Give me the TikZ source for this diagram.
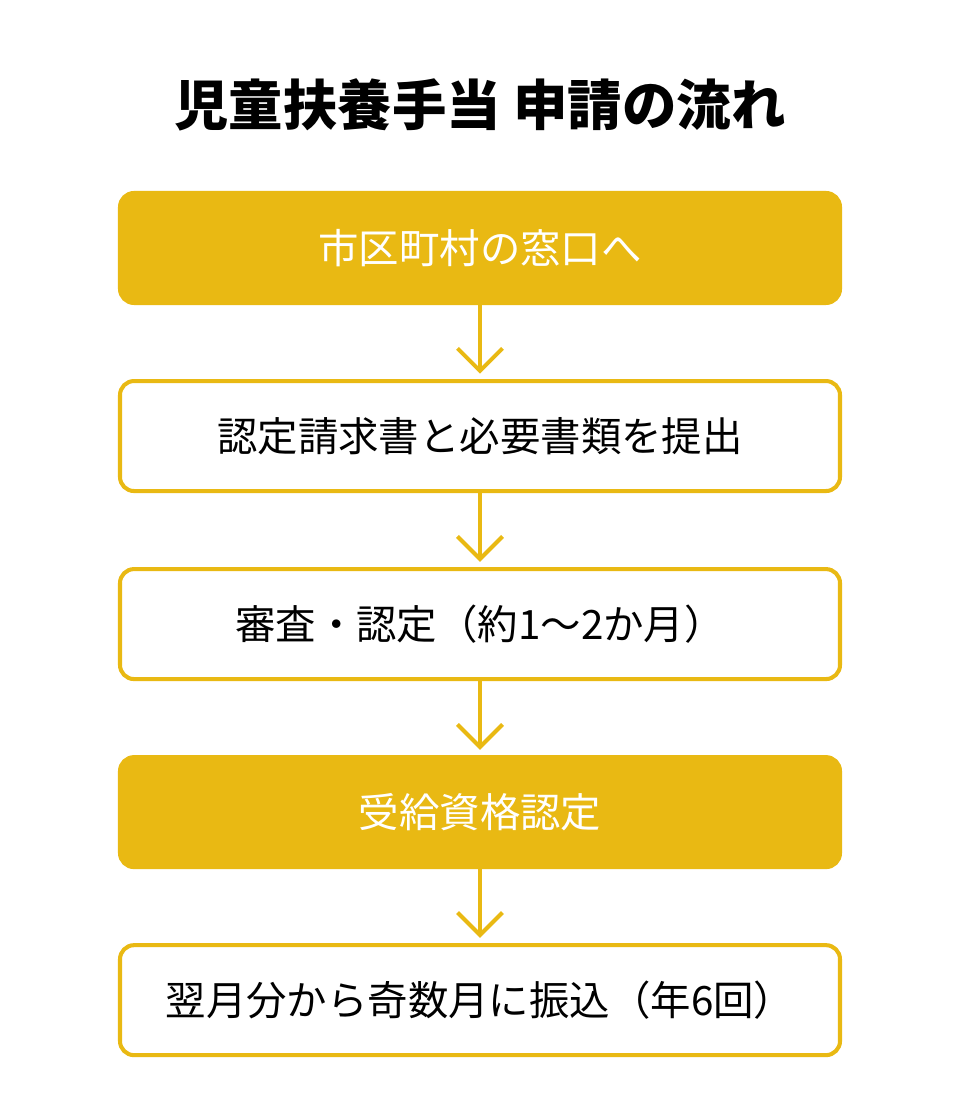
\documentclass[tikz,border=0pt]{standalone}
\usepackage{fontspec}
\setmainfont{Noto Sans CJK JP}
\usepackage{tikz}
\usetikzlibrary{positioning,arrows.meta}
\definecolor{flowyellow}{HTML}{E9B913}
\tikzstyle{filledstep} = [draw=flowyellow, fill=flowyellow, line width=2.3pt, rounded corners=8pt, minimum width=14.4cm, minimum height=2.2cm, text=white, font=\fontsize{23}{27}\selectfont]
\tikzstyle{openstep} = [draw=flowyellow, fill=white, line width=2.3pt, rounded corners=8pt, minimum width=14.4cm, minimum height=2.2cm, text=black, font=\fontsize{23}{27}\selectfont]
\tikzstyle{arrow} = [draw=flowyellow, line width=2.3pt, -{Straight Barb[length=4.5mm,width=9mm]}]

\begin{document}
\begin{tikzpicture}[node distance=1.48cm]
\useasboundingbox (0,0) rectangle (19.2,22.4);

\node[font=\fontsize{31}{36}\selectfont\bfseries] at (9.6, 20.3) (title) {児童扶養手当 申請の流れ};

\node[filledstep] at (9.6, 17.44) (window) {市区町村の窓口へ};
\node[openstep, below=of window] (submit) {認定請求書と必要書類を提出};
\node[openstep, below=of submit] (review) {審査・認定（約1〜2か月）};
\node[filledstep, below=of review] (approve) {受給資格認定};
\node[openstep, below=of approve] (payment) {翌月分から奇数月に振込（年6回）};

\path[arrow] (window) to ([yshift=3pt]submit.north);
\path[arrow] (submit) to ([yshift=3pt]review.north);
\path[arrow] (review) to ([yshift=3pt]approve.north);
\path[arrow] (approve) to ([yshift=3pt]payment.north);
\end{tikzpicture}
\end{document}
